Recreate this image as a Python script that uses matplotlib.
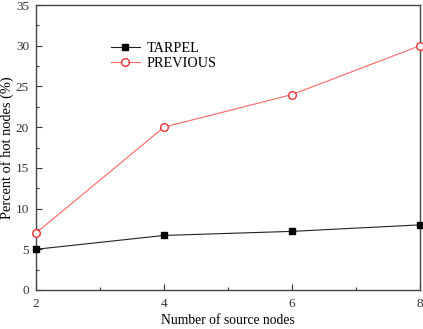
import matplotlib
matplotlib.use("Agg")
import matplotlib.pyplot as plt
from matplotlib.ticker import MultipleLocator

plt.rcParams['font.family'] = ['Liberation Serif', 'DejaVu Serif']

x = [2, 4, 6, 8]
tarpel = [5.0, 6.7, 7.2, 8.0]
previous = [7.0, 20.0, 24.0, 30.0]

fig = plt.figure(figsize=(4.23, 3.29), dpi=100)
ax = fig.add_axes([36/423, 1-290/329, (420-36)/423, (290-5)/329])

ax.plot(x, tarpel, color='#222222', lw=0.8, marker='s', ms=4.5,
        mfc='black', mec='black', label='TARPEL', clip_on=False, zorder=3)
ax.plot(x, previous, color='#ff6666', lw=0.8, marker='o', ms=5.5,
        mfc='white', mec='#ee3333', label='PREVIOUS', clip_on=False, zorder=3)

ax.set_xlim(2, 8)
ax.set_ylim(0, 35)
ax.xaxis.set_major_locator(MultipleLocator(2))
ax.xaxis.set_minor_locator(MultipleLocator(1))
ax.yaxis.set_major_locator(MultipleLocator(5))
ax.yaxis.set_minor_locator(MultipleLocator(2.5))
ax.tick_params(which='both', direction='in', top=False, right=False,
               labelsize=9.5, colors='#333333')
ax.tick_params(axis='x', pad=6)
ax.tick_params(axis='y', pad=5)
ax.tick_params(which='major', length=4, width=0.8)
ax.tick_params(which='minor', length=2.5, width=0.8)
for s in ax.spines.values():
    s.set_linewidth(1.0)
    s.set_color('#444444')

ax.set_xlabel('Number of source nodes', fontsize=9.8)
ax.set_ylabel('Percent of hot nodes (%)', fontsize=10.4)
ax.xaxis.set_label_coords(0.5, -(320-290)/285, transform=ax.transAxes)
ax.xaxis.label.set_va('center')
ax.yaxis.set_label_coords(-(36-7)/384, 0.5, transform=ax.transAxes)
ax.yaxis.label.set_va('center')

ax.legend(loc='upper left', bbox_to_anchor=(0.177, 0.895), frameon=False,
          fontsize=10.3, handlelength=2.0, handletextpad=0.5, labelspacing=0.15,
          borderpad=0)

fig.savefig('out.png', dpi=100)
